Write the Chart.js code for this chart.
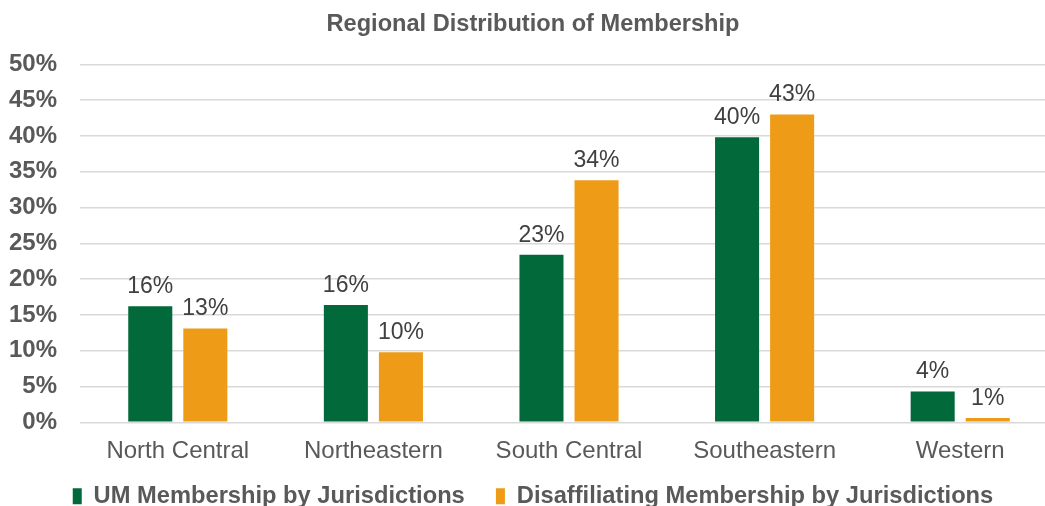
<!DOCTYPE html>
<html>
<head>
<meta charset="utf-8">
<script src="https://cdn.jsdelivr.net/npm/chart.js@4.4.1/dist/chart.umd.min.js"></script>
<style>
  html, body { margin: 0; padding: 0; background: #fff; overflow: hidden; }
  #wrap { width: 1075px; height: 506px; position: relative; }
</style>
</head>
<body>
<div id="wrap"><canvas id="chart"></canvas></div>
<script>
// regional membership shares (percent)
const regions = ['North Central', 'Northeastern', 'South Central', 'Southeastern', 'Western'];
const umMembership = [16.2, 16.4, 23.4, 39.8, 4.3];
const disaffiliating = [13.1, 9.8, 33.8, 43.0, 0.6];
const seriesNames = ['UM Membership by Jurisdictions', 'Disaffiliating Membership by Jurisdictions'];

const GREEN = '#02693a';
const ORANGE = '#ee9c17';
const TEXT = '#595959';
const FONT = "'Liberation Sans', Arial, sans-serif";

// draws the "16%" style labels above each bar
const barLabels = {
    id: 'barLabels',
    afterDatasetsDraw(chart) {
        const ctx = chart.ctx;
        ctx.save();
        ctx.font = '23px ' + FONT;
        ctx.fillStyle = '#404040';
        ctx.textAlign = 'center';
        ctx.textBaseline = 'bottom';
        chart.data.datasets.forEach((ds, i) => {
            const meta = chart.getDatasetMeta(i);
            meta.data.forEach((bar, j) => {
                ctx.fillText(Math.round(ds.data[j]) + '%', bar.x, bar.y - 8);
            });
        });
        ctx.restore();
    }
};

new Chart(document.getElementById('chart'), {
    type: 'bar',
    data: {
        labels: regions,
        datasets: [
            { label: seriesNames[0], data: umMembership, backgroundColor: GREEN },
            { label: seriesNames[1], data: disaffiliating, backgroundColor: ORANGE }
        ]
    },
    options: {
        responsive: true,
        maintainAspectRatio: false,
        animation: false,
        categoryPercentage: 0.563,
        barPercentage: 0.8,
        layout: { padding: { left: 8, right: 17, top: 0, bottom: -12 } },
        plugins: {
            title: {
                display: true,
                text: 'Regional Distribution of Membership',
                color: TEXT,
                font: { family: FONT, size: 23.6, weight: 'bold' },
                padding: { top: 10, bottom: 26 }
            },
            legend: {
                position: 'bottom',
                labels: {
                    color: TEXT,
                    font: { family: FONT, size: 23.7, weight: 'bold' },
                    boxWidth: 9,
                    boxHeight: 16,
                    padding: 18,
                    // a bit more room after the first entry, like the original
                    generateLabels: chart => Chart.defaults.plugins.legend.labels.generateLabels(chart)
                        .map((item, i) => (i === 0 ? { ...item, text: item.text + '  ' } : item))
                }
            },
            tooltip: { enabled: false }
        },
        scales: {
            y: {
                min: 0,
                max: 50,
                border: { display: false },
                grid: { color: '#d9d9d9', lineWidth: 1.5, drawTicks: false },
                afterFit: scale => { scale.width = 72; },
                ticks: {
                    stepSize: 5,
                    padding: 23,
                    color: TEXT,
                    font: { family: FONT, size: 24, weight: 'bold' },
                    callback: v => v + '%'
                }
            },
            x: {
                border: { display: false },
                grid: { display: false },
                afterFit: scale => { scale.height = 44; },
                ticks: {
                    padding: 7,
                    color: TEXT,
                    font: { family: FONT, size: 24 }
                }
            }
        }
    },
    plugins: [barLabels]
});
</script>
</body>
</html>
